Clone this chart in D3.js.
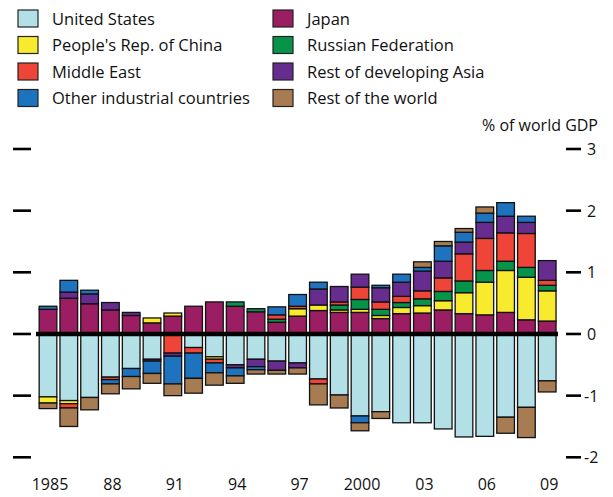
<!DOCTYPE html>
<html><head><meta charset="utf-8">
<script src="https://cdn.jsdelivr.net/npm/d3@7"></script>
<style>body{margin:0;background:#fff}svg{display:block}text{font-family:"Open Sans",sans-serif;fill:#111}</style>
</head><body><svg id="c" width="613" height="497"></svg>
<script>
const years = ["1985","1986","1987","1988","1989","1990","1991","1992","1993","1994","1995","1996","1997","1998","1999","2000","2001","2002","2003","2004","2005","2006","2007","2008","2009"];
const xTickYears = ["1985","1988","1991","1994","1997","2000","2003","2006","2009"];
const xTickLabels = ["1985","88","91","94","97","2000","03","06","09"];
const yTicks = [3,2,1,0,-1,-2];
const seriesNames = ["United States","Japan","People's Rep. of China","Russian Federation","Middle East","Rest of developing Asia","Other industrial countries","Rest of the world"];
const seriesColors = ["#b2e0e6","#9b1d62","#f8ea2c","#07934a","#ef4438","#662d8f","#1e73be","#a77c52"];
const unitedStates = [-1.02,-1.08,-1.03,-0.70,-0.56,-0.41,0,-0.22,-0.37,-0.50,-0.41,-0.44,-0.47,-0.73,-0.99,-1.33,-1.26,-1.44,-1.44,-1.54,-1.67,-1.66,-1.35,-1.19,-0.76];
const japan = [0.40,0.58,0.49,0.39,0.30,0.18,0.29,0.45,0.52,0.45,0.36,0.19,0.29,0.38,0.35,0.35,0.25,0.33,0.34,0.39,0.33,0.31,0.35,0.23,0.21];
const china = [-0.10,-0.05,0,0,0,0.08,0.05,0,-0.04,0,0,0,0.12,0.09,0.04,0.05,0.05,0.10,0.12,0.15,0.34,0.53,0.68,0.69,0.49];
const russia = [0,0,0,0,0,0,0,0,0,0.07,0.05,0.05,0,0,0.08,0.16,0.10,0.08,0.11,0.15,0.19,0.19,0.15,0.16,0.09];
const middleEast = [0,-0.07,0,-0.04,0,0,-0.31,-0.09,-0.06,0,0,0.07,0.04,-0.08,0.05,0.20,0.12,0.10,0.13,0.22,0.44,0.52,0.46,0.55,0.08];
const devAsia = [0,0.10,0.16,0.12,0.05,-0.03,-0.05,0,0,-0.05,-0.12,-0.15,-0.08,0.26,0.25,0.21,0.23,0.23,0.32,0.27,0.19,0.26,0.27,0.18,0.32];
const otherIndustrial = [0.05,0.19,0.06,-0.07,-0.13,-0.20,-0.45,-0.41,-0.16,-0.13,-0.05,0.13,0.19,0.11,0,-0.11,0.04,0.13,0.06,0.25,0.16,0.15,0.22,0.10,0];
const restOfWorld = [-0.09,-0.30,-0.20,-0.16,-0.20,-0.16,-0.19,-0.24,-0.20,-0.12,-0.07,-0.06,-0.10,-0.34,-0.21,-0.13,-0.11,0,0.09,0.07,0.06,0.10,-0.26,-0.49,-0.18];

const seriesValues = [unitedStates,japan,china,russia,middleEast,devAsia,otherIndustrial,restOfWorld];
const keys = seriesNames;
const table = years.map((y,i)=>{const o={year:y};keys.forEach((k,j)=>o[k]=seriesValues[j][i]);return o;});

const svg = d3.select("#c");
const x = d3.scaleBand().domain(years).range([37.6,557.6]).paddingInner(0.15).paddingOuter(0.075);
const y = d3.scaleLinear().domain([-2,3]).range([457.3,149]);

const stack = d3.stack().keys(keys).offset(d3.stackOffsetDiverging);
const layers = stack(table);

const g = svg.append("g");
layers.forEach((layer,li)=>{
  g.selectAll(null).data(layer.filter(d=>d[1]!==d[0])).enter().append("rect")
    .attr("x",d=>x(d.data.year))
    .attr("width",x.bandwidth())
    .attr("y",d=>y(Math.max(d[0],d[1])))
    .attr("height",d=>Math.abs(y(d[0])-y(d[1])))
    .attr("fill",seriesColors[li])
    .attr("stroke","#111").attr("stroke-width",1.3);
});

// zero line
svg.append("line").attr("x1",36).attr("x2",558).attr("y1",y(0)).attr("y2",y(0))
  .attr("stroke","#000").attr("stroke-width",4.5);

// left ticks
svg.append("g").selectAll("line").data(yTicks).enter().append("line")
  .attr("x1",13).attr("x2",31).attr("y1",d=>y(d)).attr("y2",d=>y(d))
  .attr("stroke","#000").attr("stroke-width",2.6);
// right axis
const ra = svg.append("g");
ra.selectAll("line").data(yTicks).enter().append("line")
  .attr("x1",566).attr("x2",581).attr("y1",d=>y(d)).attr("y2",d=>y(d))
  .attr("stroke","#000").attr("stroke-width",2.6);
ra.selectAll("text").data(yTicks).enter().append("text")
  .attr("x",d=>d<0?584:587).attr("y",d=>y(d)+6).attr("font-size",16)
  .text(d=>d<0?"-"+Math.abs(d):d);
svg.append("text").attr("x",598).attr("y",131).attr("text-anchor","end").attr("font-size",16).text("% of world GDP");

// x labels
svg.append("g").selectAll("text").data(xTickYears).enter().append("text")
  .attr("x",(d)=>x(d)+x.bandwidth()/2+2).attr("y",490).attr("text-anchor","middle").attr("font-size",16)
  .text((d,i)=>xTickLabels[i]);

// legend
const legendOrder = [0,2,4,6,1,3,5,7];
legendOrder.forEach((si,k)=>{
  const col = Math.floor(k/4), row = k%4;
  const lx = col===0?18:273, ly = 10+row*26.5;
  svg.append("rect").attr("x",lx).attr("y",ly).attr("width",20).attr("height",17)
    .attr("fill",seriesColors[si]).attr("stroke","#222").attr("stroke-width",1.2);
  svg.append("text").attr("x",lx+34).attr("y",ly+14.5).attr("font-size",16.5).text(seriesNames[si]);
});
</script></body></html>
